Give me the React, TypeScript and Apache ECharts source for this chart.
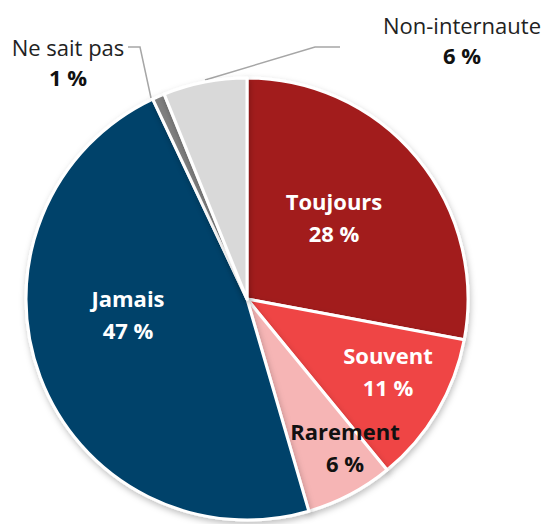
import React, { useEffect, useRef } from "react";
import * as echarts from "echarts";

const categories = ["Toujours", "Souvent", "Rarement", "Jamais", "Ne sait pas", "Non-internaute"];
const values = [27.9, 11.1, 6.4, 47.4, 0.9, 6.1];
const colors = ["#A21C1D", "#EF4444", "#F6B5B5", "#00426A", "#808080", "#D9D9D9"];

// label placement (pixels) per slice
const labelPos: [number, number][] = [
  [334, 217],
  [388, 371],
  [345, 447],
  [128, 314],
  [68, 62],
  [462, 40],
];

export default function App() {
  const ref = useRef<HTMLDivElement>(null);
  useEffect(() => {
    const chart = echarts.init(ref.current!, null, { renderer: "svg" });
    const font = "'Open Sans', 'Noto Sans', sans-serif";
    const fs = 22;
    const data = categories.map((name, i) => {
      const inside = i < 4;
      const dark = i === 2;
      return {
        name,
        value: values[i],
        itemStyle: { color: colors[i] },
        label: inside
          ? {
              show: true,
              position: "inside",
              fontSize: fs,
              fontFamily: font,
              overflow: "none",
              formatter: "{b|{b}}\n{b|" + Math.round(values[i]) + " %}",
              rich: {
                b: {
                  fontFamily: font,
                  fontSize: fs,
                  fontWeight: "bold",
                  color: dark ? "#111" : "#fff",
                  lineHeight: 32,
                  align: "center",
                },
              },
            }
          : {
              show: true,
              position: "outside",
              fontSize: fs,
              fontFamily: font,
              overflow: "none",
              width: 200,
              formatter: "{n|{b}}\n{v|" + Math.round(values[i]) + " %}",
              rich: {
                n: { fontFamily: font, fontSize: fs, color: "#222", lineHeight: 30, align: "center" },
                v: { fontFamily: font, fontSize: fs, fontWeight: "bold", color: "#111", lineHeight: 30, align: "center" },
              },
            },
        labelLine: inside
          ? { show: false }
          : { show: true, lineStyle: { color: "#A6A6A6", width: 1.5 } },
      };
    });
    chart.setOption({
      animation: false,
      backgroundColor: "#fff",
      series: [
        {
          type: "pie",
          center: [247, 299],
          radius: [0, 221],
          startAngle: 90,
          clockwise: true,
          data,
          itemStyle: {
            borderColor: "#fff",
            borderWidth: 3,
            shadowBlur: 6,
            shadowOffsetY: 3,
            shadowOffsetX: 1,
            shadowColor: "rgba(0,0,0,0.25)",
          },
          emphasis: { disabled: true },
          labelLayout: (params: any) => {
            const i = params.dataIndex;
            const p = labelPos[i];
            const res: any = { x: p[0], y: p[1], align: "center", verticalAlign: "middle" };
            if (i === 4) res.labelLinePoints = [[151, 98], [140, 47], [128, 47]];
            if (i === 5) res.labelLinePoints = [[205, 80], [315, 47], [340, 47]];
            return res;
          },
        },
      ],
    });
    return () => chart.dispose();
  }, []);
  return (
    <div
      ref={ref}
      style={{ position: "fixed", left: 0, top: 0, width: 544, height: 524 }}
    />
  );
}
